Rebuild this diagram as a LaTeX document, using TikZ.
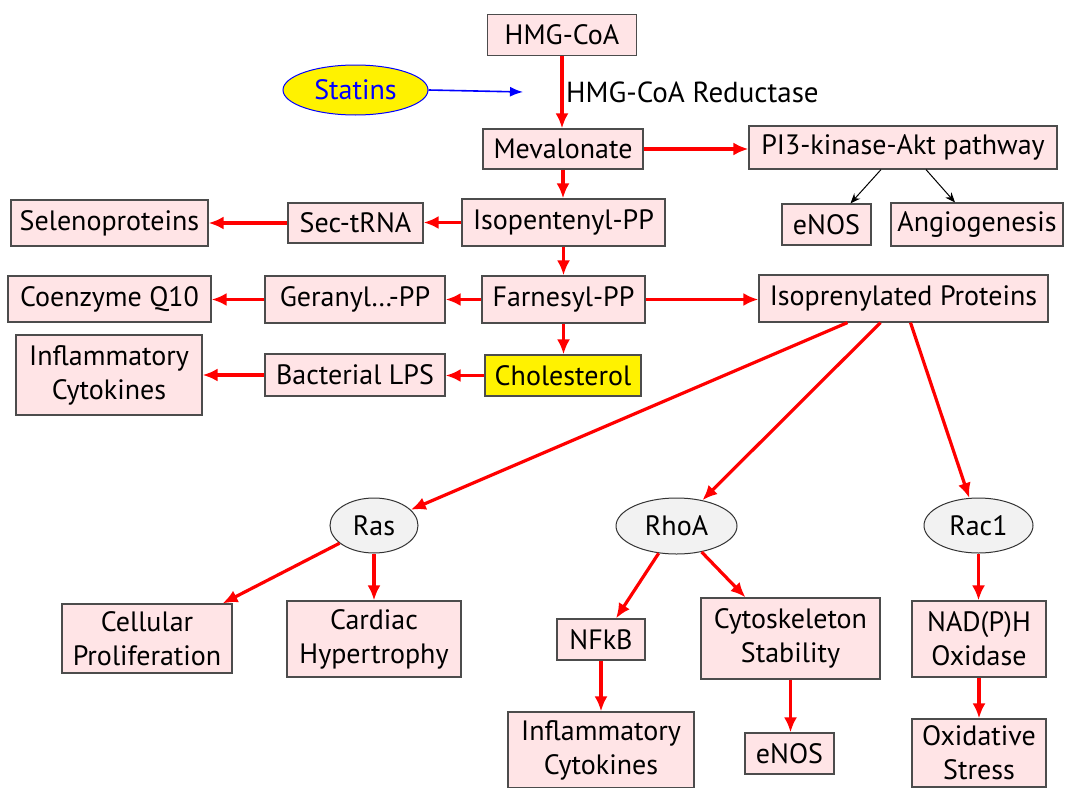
\documentclass[tikz,border=0pt]{standalone}
\usepackage{fontspec}
\setmainfont{PT Sans}
\usetikzlibrary{arrows.meta,shapes.geometric}
\definecolor{boxfill}{HTML}{FFE4E6}
\definecolor{ovalfill}{HTML}{F2F2F2}
\begin{document}
\begin{tikzpicture}[x=1pt,y=-1pt,
  box/.style={draw=black!70, fill=boxfill, line width=1.2pt, font=\fontsize{28}{34}\selectfont, align=center, inner sep=0pt},
  oval/.style={ellipse, draw=black!80, fill=ovalfill, line width=1pt, font=\fontsize{28}{34}\selectfont, inner sep=0pt},
  redarrow/.style={draw=red, line width=3.2pt, -{Latex[length=15pt,width=13pt]}},
  bluearrow/.style={draw=blue, line width=1.6pt, -{Latex[length=13pt,width=10pt]}},
  thinarrow/.style={draw=black, line width=1pt, -{Stealth[length=10pt,width=8pt]}}]
\useasboundingbox (0,0) rectangle (1068,787);

\node[box, minimum width=149pt, minimum height=41pt] (hmg) at (562,35) {HMG-CoA};
\node[oval, draw=blue, fill=yellow, text=blue, minimum width=145pt, minimum height=50pt] (statins) at (355.5,90) {Statins};
\coordinate (bluetip) at (523,92);
\node[anchor=west, font=\fontsize{29}{34}\selectfont, inner sep=0pt] (reductase) at (566,92) {HMG-CoA Reductase};
\node[box, minimum width=160pt, minimum height=40pt] (mev) at (563,149) {Mevalonate};
\node[box, minimum width=308pt, minimum height=43pt] (pi3k) at (903,147.5) {PI3-kinase-Akt pathway};
\node[box, minimum width=89pt, minimum height=41pt] (enosA) at (826.5,224.5) {eNOS};
\node[box, minimum width=172pt, minimum height=43pt] (angio) at (977,224.5) {Angiogenesis};
\node[box, minimum width=203pt, minimum height=47pt] (isopent) at (563.5,222.5) {Isopentenyl-PP};
\node[box, minimum width=135pt, minimum height=40pt] (sectrna) at (355.5,223) {Sec-tRNA};
\node[box, minimum width=197pt, minimum height=46pt] (seleno) at (109.5,223) {Selenoproteins};
\node[box, minimum width=163pt, minimum height=47pt] (farn) at (563.5,299.5) {Farnesyl-PP};
\node[box, minimum width=180pt, minimum height=47pt] (geran) at (355,299.5) {Geranyl\ldots-PP};
\node[box, minimum width=203pt, minimum height=46pt] (coq) at (109.5,299) {Coenzyme Q10};
\node[box, minimum width=289pt, minimum height=47pt] (iso) at (903.5,298.5) {Isoprenylated Proteins};
\node[box, fill=yellow, minimum width=156pt, minimum height=41pt] (chol) at (563,375.5) {Cholesterol};
\node[box, minimum width=180pt, minimum height=42pt] (lps) at (355,375) {Bacterial LPS};
\node[box, minimum width=186pt, minimum height=80pt] (inflA) at (109,375) {Inflammatory\\Cytokines};
\node[oval, minimum width=88pt, minimum height=55pt] (ras) at (374,525.5) {Ras};
\node[oval, minimum width=121pt, minimum height=56pt] (rhoa) at (676.5,526) {RhoA};
\node[oval, minimum width=109pt, minimum height=55pt] (rac) at (978.5,525.5) {Rac1};
\node[box, minimum width=170pt, minimum height=69pt] (cellp) at (147,638.5) {Cellular\\Proliferation};
\node[box, minimum width=174pt, minimum height=76pt] (cardiac) at (374,639) {Cardiac\\Hypertrophy};
\node[box, minimum width=88pt, minimum height=41pt] (nfkb) at (601,639.5) {NFkB};
\node[box, minimum width=179pt, minimum height=81pt] (cyto) at (790.5,638.5) {Cytoskeleton\\Stability};
\node[box, minimum width=134pt, minimum height=76pt] (nadph) at (979,639) {NAD(P)H\\Oxidase};
\node[box, minimum width=186pt, minimum height=76pt] (inflB) at (601,750) {Inflammatory\\Cytokines};
\node[box, minimum width=89pt, minimum height=41pt] (enosB) at (789.5,753.5) {eNOS};
\node[box, minimum width=134pt, minimum height=68pt] (oxid) at (979,753) {Oxidative\\Stress};

\draw[bluearrow] (statins.east) -- (bluetip);
\draw[redarrow] (hmg.south) -- (hmg.south |- mev.north);
\draw[redarrow] (mev.east) -- (mev.east -| pi3k.west);
\draw[redarrow] (mev.south) -- (mev.south |- isopent.north);
\draw[redarrow] (isopent.west) -- (isopent.west -| sectrna.east);
\draw[redarrow] (sectrna.west) -- (sectrna.west -| seleno.east);
\draw[redarrow] (isopent.south) -- (isopent.south |- farn.north);
\draw[redarrow] (farn.west) -- (farn.west -| geran.east);
\draw[redarrow] (geran.west) -- (geran.west -| coq.east);
\draw[redarrow] (farn.east) -- (farn.east -| iso.west);
\draw[redarrow] (farn.south) -- (farn.south |- chol.north);
\draw[redarrow] (chol.west) -- (chol.west -| lps.east);
\draw[redarrow] (lps.west) -- (lps.west -| inflA.east);
\draw[thinarrow] ([xshift=-22pt]pi3k.south) -- ([xshift=24pt]enosA.north);
\draw[thinarrow] ([xshift=23pt]pi3k.south) -- ([xshift=-22pt]angio.north);
\draw[redarrow] ([xshift=-56pt]iso.south) -- (ras);
\draw[redarrow] ([xshift=-23pt]iso.south) -- (rhoa);
\draw[redarrow] ([xshift=7pt]iso.south) -- (rac);
\draw[redarrow] (ras) -- ([xshift=-10pt]cellp.north east);
\draw[redarrow] (ras.south) -- (ras.south |- cardiac.north);
\draw[redarrow] (rhoa) -- ([xshift=15pt]nfkb.north);
\draw[redarrow] (rhoa) -- ([xshift=-45pt]cyto.north);
\draw[redarrow] (nfkb.south) -- (nfkb.south |- inflB.north);
\draw[redarrow] (cyto.south) -- (cyto.south |- enosB.north);
\draw[redarrow] (rac.south) -- (rac.south |- nadph.north);
\draw[redarrow] (nadph.south) -- (nadph.south |- oxid.north);
\end{tikzpicture}
\end{document}
